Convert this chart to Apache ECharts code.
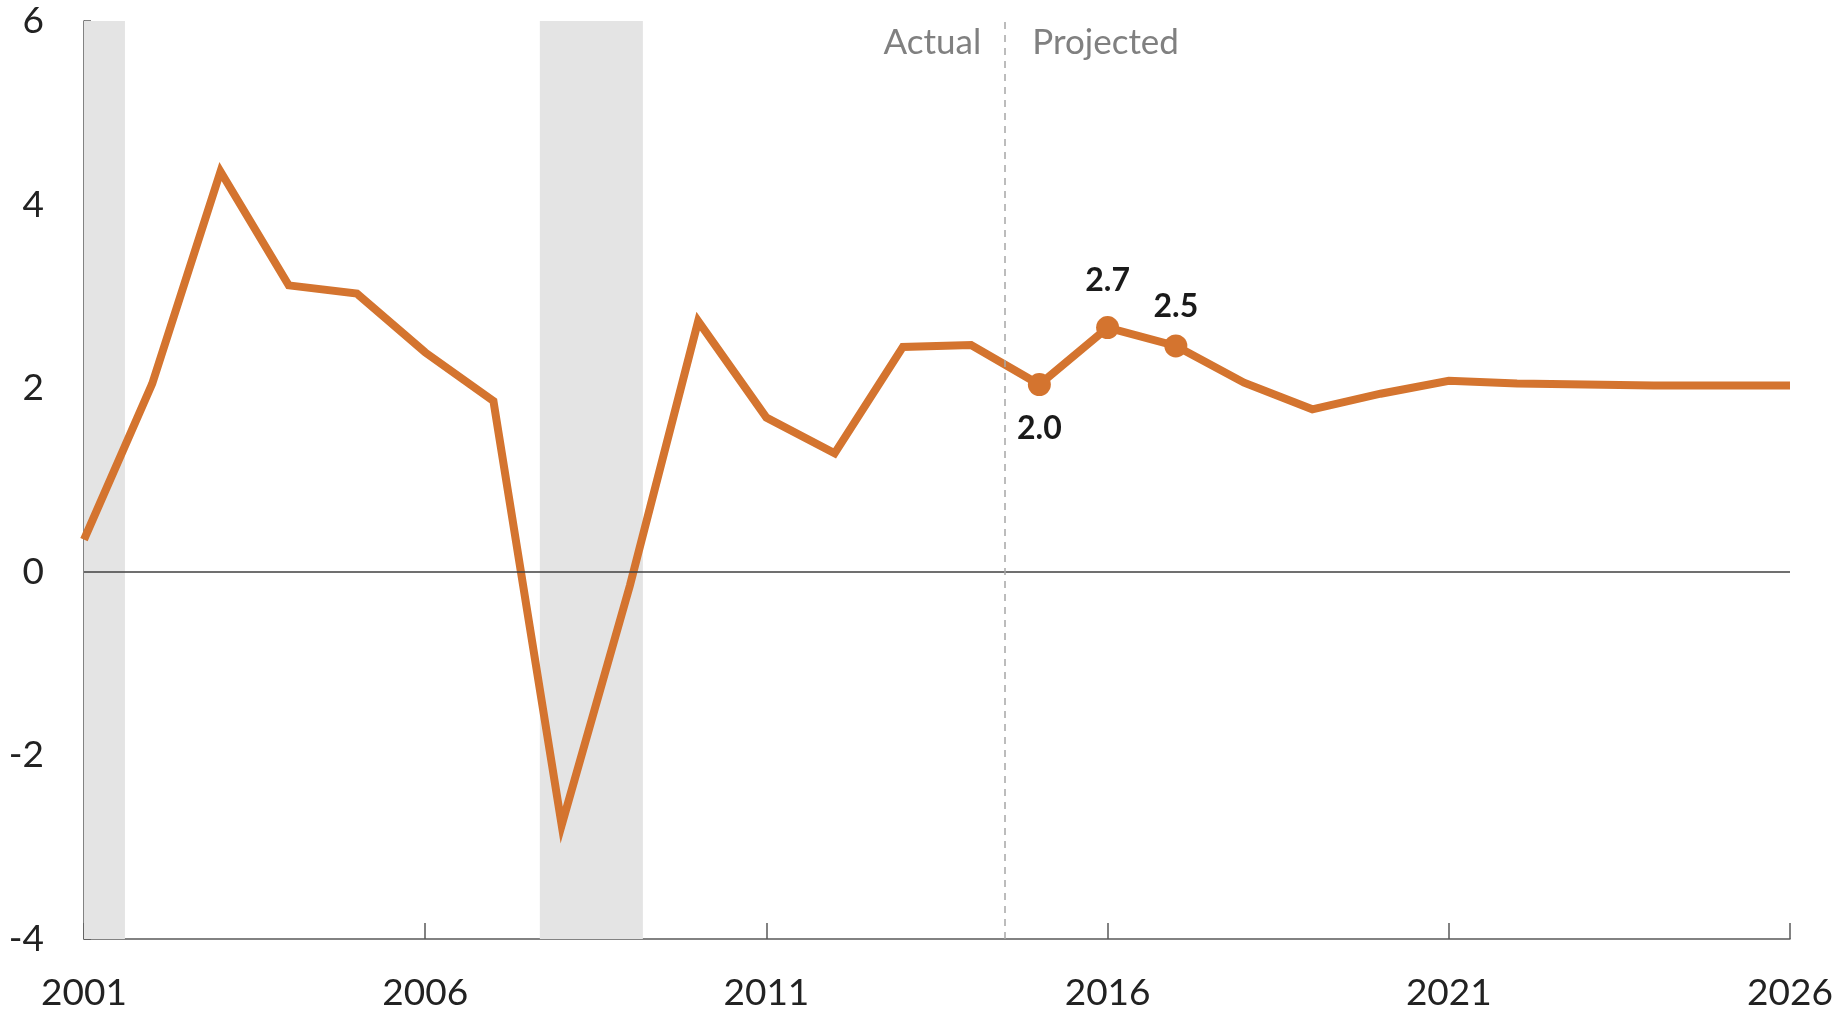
<!DOCTYPE html>
<html>
<head>
<meta charset="utf-8">
<script src="https://cdn.jsdelivr.net/npm/echarts@6/dist/echarts.min.js"></script>
<style>
  html, body { margin: 0; padding: 0; background: #fff; }
  #chart { width: 1837px; height: 1012px; }
</style>
</head>
<body>
<div id="chart"></div>
<script>
  // real growth, percent, one value per year
  var years = [2001, 2002, 2003, 2004, 2005, 2006, 2007, 2008, 2009, 2010, 2011, 2012, 2013,
               2014, 2015, 2016, 2017, 2018, 2019, 2020, 2021, 2022, 2023, 2024, 2025, 2026];
  var growth = [0.35, 2.05, 4.36, 3.12, 3.03, 2.39, 1.86, -2.76, -0.15, 2.73, 1.68, 1.29, 2.45,
                2.47, 2.04, 2.66, 2.46, 2.06, 1.77, 1.94, 2.08, 2.05, 2.04, 2.03, 2.03, 2.03];
  // years that get a dot and a value label
  var labelled = [2015, 2016, 2017];
  // shaded recession periods
  var recessions = [[2001, 2001.6], [2007.68, 2009.19]];
  var splitYear = 2014.5;
  var xTicks = [2001, 2006, 2011, 2016, 2021, 2026];
  var yTicks = [-4, -2, 0, 2, 4, 6];

  var FONT = 'Lato, "Open Sans", sans-serif';
  var ORANGE = '#d4742f';

  var lineData = years.map(function (y, i) { return [y, growth[i]]; });
  var dotPos = ['bottom', 'top', 'top'];
  var dotDist = [17, 19, 12];
  var dotData = labelled.map(function (y, k) {
    return {
      value: [y, growth[years.indexOf(y)]],
      label: { position: dotPos[k], distance: dotDist[k] }
    };
  });

  var chart = echarts.init(document.getElementById('chart'), null, { renderer: 'canvas' });

  var option = {
    animation: false,
    grid: { left: 84, right: 47, top: 21, bottom: 71 },
    xAxis: {
      type: 'value',
      min: xTicks[0],
      max: xTicks[xTicks.length - 1],
      interval: 5,
      axisLine: { onZero: false, lineStyle: { color: '#595959', width: 1.5 } },
      axisTick: { inside: true, length: 16, lineStyle: { color: '#595959', width: 1.5 } },
      axisLabel: { margin: 36, fontFamily: FONT, fontSize: 37, color: '#222',
                   formatter: function (v) { return String(v); } },
      splitLine: { show: false }
    },
    yAxis: {
      type: 'value',
      min: yTicks[0],
      max: yTicks[yTicks.length - 1],
      interval: 2,
      axisLine: { show: true, lineStyle: { color: '#595959', width: 1.5 } },
      axisTick: { show: true, inside: true, length: 7, lineStyle: { color: '#595959', width: 1.5 } },
      axisLabel: { margin: 40, fontFamily: FONT, fontSize: 37, color: '#222' },
      splitLine: { show: false }
    },
    series: [
      {
        // recession shading, zero line and the actual/projected divider
        type: 'line',
        data: [],
        z: 1,
        markArea: {
          silent: true,
          itemStyle: { color: '#e4e4e4' },
          data: recessions.map(function (r) { return [{ xAxis: r[0] }, { xAxis: r[1] }]; })
        },
        markLine: {
          silent: true,
          symbol: 'none',
          label: { show: false },
          data: [
            { yAxis: 0, lineStyle: { type: 'solid', color: '#404040', width: 1.5 } },
            { xAxis: splitYear, lineStyle: { type: [7, 6], color: '#a6a6a6', width: 1.5 } }
          ]
        }
      },
      {
        type: 'line',
        data: lineData,
        z: 3,
        showSymbol: false,
        lineStyle: { color: ORANGE, width: 8, join: 'miter' },
        itemStyle: { color: ORANGE }
      },
      {
        type: 'scatter',
        data: dotData,
        z: 4,
        symbolSize: 23,
        itemStyle: { color: ORANGE, opacity: 1 },
        label: {
          show: true,
          fontFamily: FONT,
          fontWeight: 'bold',
          fontSize: 32,
          color: '#1a1a1a',
          formatter: function (p) { return p.value[1].toFixed(1); }
        }
      }
    ]
  };

  chart.setOption(option);

  // "Actual" / "Projected" headings either side of the divider
  var px = chart.convertToPixel({ gridIndex: 0 }, [splitYear, 5.76]);
  chart.setOption({
    graphic: [
      { type: 'text', x: px[0] - 24, y: px[1], silent: true,
        style: { text: 'Actual', fill: '#808080', font: '35px ' + FONT, align: 'right', verticalAlign: 'middle' } },
      { type: 'text', x: px[0] + 27, y: px[1], silent: true,
        style: { text: 'Projected', fill: '#808080', font: '35px ' + FONT, align: 'left', verticalAlign: 'middle' } }
    ]
  });

  window.addEventListener('resize', chart.resize);
</script>
</body>
</html>
